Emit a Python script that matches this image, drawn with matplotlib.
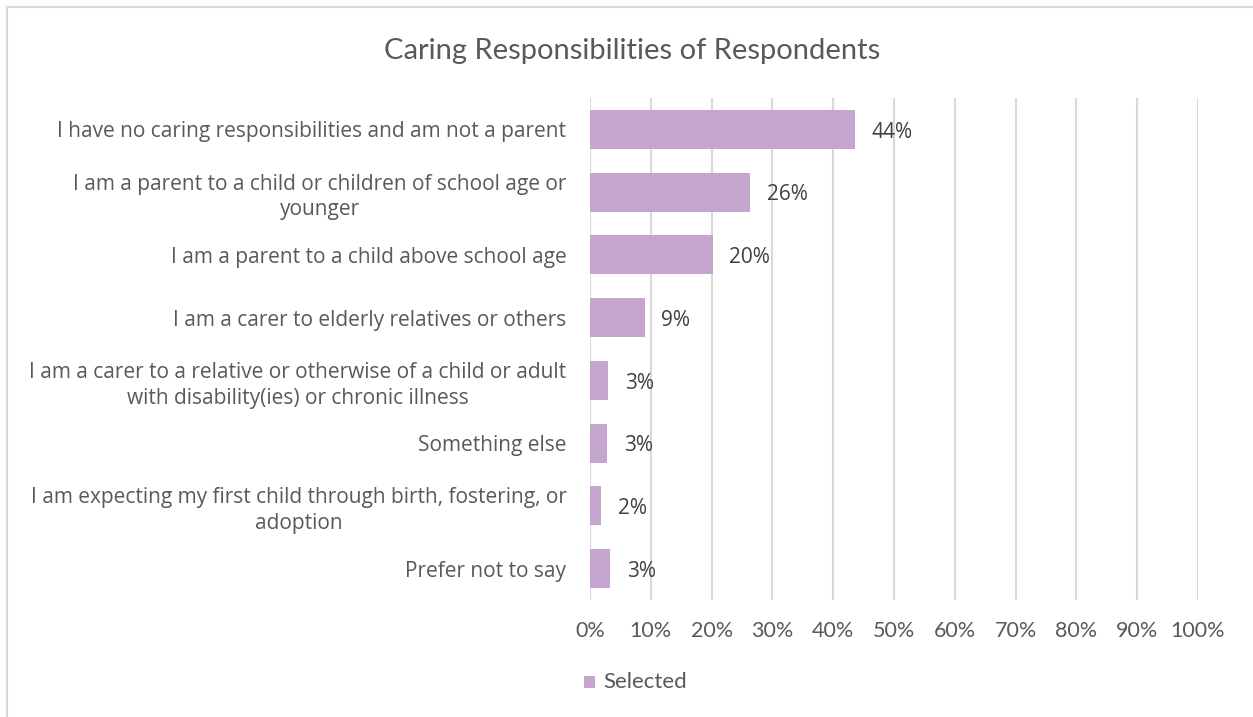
import matplotlib
matplotlib.use("Agg")
import matplotlib.pyplot as plt
from matplotlib.patches import Rectangle
from matplotlib.lines import Line2D

categories = [
    "I have no caring responsibilities and am not a parent",
    "I am a parent to a child or children of school age or\nyounger",
    "I am a parent to a child above school age",
    "I am a carer to elderly relatives or others",
    "I am a carer to a relative or otherwise of a child or adult\nwith disability(ies) or chronic illness",
    "Something else",
    "I am expecting my first child through birth, fostering, or\nadoption",
    "Prefer not to say",
]
selected = [43.6, 26.3, 20.2, 9.0, 3.0, 2.8, 1.8, 3.3]
x_ticks = [0, 10, 20, 30, 40, 50, 60, 70, 80, 90, 100]
x_tick_labels = [f"{t}%" for t in x_ticks]

W, H = 1253, 717
LABEL_FONT = "Open Sans"
AXIS_FONT = "Lato"
TEXT = "#595959"
BAR = "#C3A5CE"
GRID = "#D9D9D9"

fig = plt.figure(figsize=(W / 100, H / 100), dpi=100)
fig.patch.set_facecolor("white")

# chart frame: top and left edges
fig.lines.append(Line2D([7 / W, 7 / W], [0, 1 - 7 / H], transform=fig.transFigure,
                        color=GRID, linewidth=1.5))
fig.lines.append(Line2D([7 / W, 1], [1 - 7 / H, 1 - 7 / H], transform=fig.transFigure,
                        color=GRID, linewidth=1.5))

ax = fig.add_axes([590 / W, (H - 600) / H, (1198 - 590) / W, (600 - 98) / H])
y = list(range(len(categories)))
ax.barh(y, selected, height=0.62, color=BAR, zorder=3)
ax.set_ylim(len(categories) - 0.5, -0.5)
ax.set_xlim(0, 100)
ax.set_xticks(x_ticks)
ax.set_xticklabels(x_tick_labels)
ax.set_yticks(y)
ax.set_yticklabels(categories, multialignment="center", linespacing=1.3)
for side in ax.spines.values():
    side.set_visible(False)
ax.grid(axis="x", color=GRID, linewidth=1.5, zorder=0)
ax.tick_params(axis="both", length=0, colors=TEXT)
ax.tick_params(axis="x", pad=15, labelsize=15.5)
ax.tick_params(axis="y", pad=17, labelsize=15)
for lab in ax.get_xticklabels():
    lab.set_fontfamily(AXIS_FONT)
for lab in ax.get_yticklabels():
    lab.set_fontfamily(LABEL_FONT)

for yi, v in zip(y, selected):
    ax.annotate(f"{v:.0f}%", (v, yi), xytext=(12, -2), textcoords="offset points",
                va="center", ha="left", fontsize=15, color="#404040", fontfamily=LABEL_FONT)

fig.text(632 / W, 1 - 51 / H, "Caring Responsibilities of Respondents", ha="center",
         va="center", fontsize=21, color=TEXT, fontfamily=AXIS_FONT)

# legend
fig.patches.append(Rectangle((584 / W, 1 - 688 / H), 11 / W, 12 / H, transform=fig.transFigure,
                             facecolor=BAR, edgecolor="none"))
fig.text(603 / W, 1 - 682 / H, "Selected", ha="left", va="center", fontsize=16,
         color=TEXT, fontfamily=AXIS_FONT)

fig.savefig("out.png", dpi=100, facecolor="white")
